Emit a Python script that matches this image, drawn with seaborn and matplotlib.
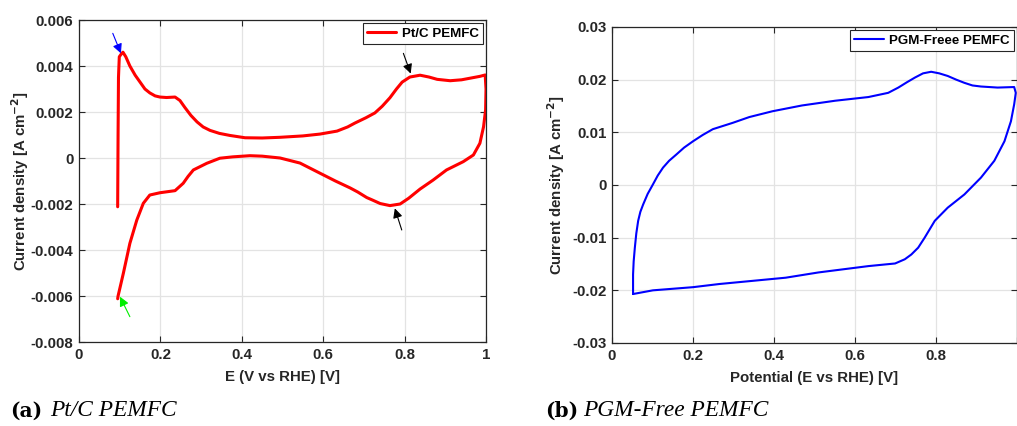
import matplotlib
matplotlib.use("Agg")
import matplotlib.pyplot as plt
import seaborn as sns
import pandas as pd

# ---- data ----
ptc_E = [0.095, 0.096, 0.097, 0.099, 0.103, 0.108, 0.115, 0.125, 0.138, 0.150, 0.162, 0.174,
         0.187, 0.199, 0.215, 0.236, 0.248, 0.260, 0.275, 0.290, 0.305, 0.322, 0.345, 0.371,
         0.408, 0.450, 0.494, 0.550, 0.592, 0.634, 0.660, 0.678, 0.705, 0.727, 0.745, 0.764,
         0.780, 0.794, 0.813, 0.838, 0.860, 0.880, 0.912, 0.940, 0.961, 0.985, 0.998,
         1.000, 0.999, 0.994, 0.985, 0.969, 0.944, 0.903, 0.870, 0.838, 0.810, 0.789, 0.764,
         0.740, 0.720, 0.707, 0.685, 0.666, 0.630, 0.592, 0.543, 0.494, 0.450, 0.420, 0.378,
         0.346, 0.314, 0.281, 0.268, 0.256, 0.236, 0.199, 0.174, 0.158, 0.142, 0.125, 0.109,
         0.096, 0.095]
ptc_j = [-0.00212, 0.00100, 0.00350, 0.00440, 0.00450, 0.00460, 0.00440, 0.00400, 0.00360,
         0.00330, 0.00300, 0.00283, 0.00270, 0.00265, 0.00263, 0.00265, 0.00250, 0.00220,
         0.00185, 0.00157, 0.00135, 0.00120, 0.00107, 0.00098, 0.00088, 0.00087, 0.00090,
         0.00096, 0.00104, 0.00117, 0.00135, 0.00152, 0.00175, 0.00196, 0.00225, 0.00262,
         0.00300, 0.00330, 0.00352, 0.00360, 0.00352, 0.00342, 0.00336, 0.00340, 0.00347,
         0.00355, 0.00361,
         0.00300, 0.00209, 0.00136, 0.00064, 0.00013, -0.00016, -0.00052, -0.00096, -0.00135,
         -0.00175, -0.00200, -0.00207, -0.00198, -0.00182, -0.00172, -0.00148, -0.00130,
         -0.00100, -0.00066, -0.00022, 0.00000, 0.00008, 0.00010, 0.00005, -0.00001, -0.00023,
         -0.00052, -0.00080, -0.00110, -0.00142, -0.00151, -0.00161, -0.00197, -0.00270,
         -0.00371, -0.00501, -0.00600, -0.00612]

pgm_E = [0.052, 0.052, 0.0535, 0.0564, 0.060, 0.0646, 0.070, 0.0769, 0.088, 0.101, 0.113,
         0.126, 0.141, 0.159, 0.178, 0.200, 0.224, 0.249, 0.298, 0.339, 0.396, 0.469, 0.551,
         0.633, 0.682, 0.707, 0.728, 0.748, 0.768, 0.788, 0.808, 0.829, 0.850, 0.870, 0.890,
         0.911, 0.952, 0.993, 0.997, 0.993, 0.985, 0.969, 0.944, 0.911, 0.870, 0.829, 0.797,
         0.772, 0.756, 0.739, 0.723, 0.699, 0.633, 0.592, 0.510, 0.429, 0.347, 0.265, 0.200,
         0.101, 0.052]
pgm_j = [-0.0207, -0.0170, -0.0145, -0.0119, -0.0092, -0.0068, -0.0051, -0.0037, -0.0017,
         0.0001, 0.0018, 0.0033, 0.0046, 0.0058, 0.0071, 0.0083, 0.0095, 0.0106, 0.0118,
         0.0129, 0.0140, 0.0151, 0.0160, 0.0167, 0.0175, 0.0185, 0.0195, 0.0204, 0.0212,
         0.0215, 0.0212, 0.0207, 0.0200, 0.0194, 0.0189, 0.0187, 0.0185, 0.0186, 0.0175,
         0.0153, 0.0121, 0.0083, 0.0046, 0.0014, -0.0018, -0.0043, -0.0068, -0.0100, -0.0119,
         -0.0132, -0.0141, -0.0149, -0.0154, -0.0158, -0.0166, -0.0176, -0.0182, -0.0188,
         -0.0194, -0.0200, -0.0207]

left_xticks = [0, 0.2, 0.4, 0.6, 0.8, 1.0]
left_xlabels = ["0", "0.2", "0.4", "0.6", "0.8", "1"]
left_yticks = [-0.008, -0.006, -0.004, -0.002, 0, 0.002, 0.004, 0.006]
left_ylabels = ["-0.008", "-0.006", "-0.004", "-0.002", "0", "0.002", "0.004", "0.006"]
right_xticks = [0, 0.2, 0.4, 0.6, 0.8, 1.0]
right_xlabels = ["0", "0.2", "0.4", "0.6", "0.8", ""]
right_yticks = [-0.03, -0.02, -0.01, 0, 0.01, 0.02, 0.03]
right_ylabels = ["-0.03", "-0.02", "-0.01", "0", "0.01", "0.02", "0.03"]

# ---- style ----
sns.set_theme(style="whitegrid")
plt.rcParams["font.family"] = ["Liberation Sans", "DejaVu Sans"]
plt.rcParams["font.weight"] = "bold"
TXT = "#262626"

fig = plt.figure(figsize=(10.17, 4.26), dpi=100)
axL = fig.add_axes([79/1017, (426-342)/426, 407/1017, 322/426])
axR = fig.add_axes([612/1017, (426-343)/426, 405/1017, 316/426])

dfL = pd.DataFrame({"E": ptc_E, "j": ptc_j})
dfR = pd.DataFrame({"E": pgm_E, "j": pgm_j})
sns.lineplot(data=dfL, x="E", y="j", sort=False, estimator=None, ax=axL,
             color="#ff0000", lw=2.2, label="Pt/C PEMFC")
sns.lineplot(data=dfR, x="E", y="j", sort=False, estimator=None, ax=axR,
             color="#0000ff", lw=1.5, label="PGM-Freee PEMFC")

def style(ax, xt, xl, yt, yl, xlim, ylim, xlabel):
    ax.set_xlim(*xlim)
    ax.set_ylim(*ylim)
    ax.set_xticks(xt)
    ax.set_xticklabels(xl)
    ax.set_yticks(yt)
    ax.set_yticklabels(yl)
    ax.grid(True, color="#e3e3e3", lw=0.9)
    ax.tick_params(direction="in", length=4, width=0.8, colors=TXT, labelsize=10.8,
                   top=True, right=True, bottom=True, left=True, pad=4)
    for lab in ax.get_xticklabels() + ax.get_yticklabels():
        lab.set_fontweight("bold")
    for s in ax.spines.values():
        s.set_color(TXT)
        s.set_linewidth(0.9)
    ax.set_xlabel(xlabel, fontsize=10.8, fontweight="bold", color=TXT, labelpad=6)
    ax.set_ylabel("Current density [A cm$^{\\mathbf{-2}}$]", fontsize=10.8,
                  fontweight="bold", color=TXT, labelpad=6)
    leg = ax.legend(loc="upper right", fontsize=9.6, frameon=True, fancybox=False,
                    borderpad=0.3, handlelength=2.2, handletextpad=0.4,
                    borderaxespad=0.25, framealpha=1)
    leg.get_frame().set_edgecolor(TXT)
    leg.get_frame().set_linewidth(0.8)
    for t in leg.get_texts():
        t.set_fontweight("bold")
        t.set_color("black")

style(axL, left_xticks, left_xlabels, left_yticks, left_ylabels, (0, 1), (-0.008, 0.006),
      "E (V vs RHE) [V]")
style(axR, right_xticks, right_xlabels, right_yticks, right_ylabels, (0, 1), (-0.03, 0.03),
      "Potential (E vs RHE) [V]")
axL.yaxis.set_label_coords(-0.118, 0.5)
axR.yaxis.set_label_coords(-0.111, 0.5)

# annotation arrows
def arrow(ax, head, tail, color):
    ax.annotate("", xy=head, xytext=tail,
                arrowprops=dict(arrowstyle="-|>", color=color, lw=0.8, mutation_scale=14,
                                shrinkA=0, shrinkB=0))

arrow(axL, (0.103, 0.00455), (0.083, 0.00542), "#0000ff")
arrow(axL, (0.815, 0.00367), (0.797, 0.00455), "black")
arrow(axL, (0.776, -0.00219), (0.793, -0.00313), "black")
arrow(axL, (0.1007, -0.00603), (0.125, -0.0069), "#00ee00")

# captions
fig.text(10/1017, 1 - 411/426, "(a)", family="DejaVu Serif", fontweight="bold",
         fontsize=14.5, va="center", color="black")
fig.text(50/1017, 1 - 411/426, "Pt/C PEMFC", family="Liberation Serif", style="italic",
         fontweight="normal", fontsize=16.8, va="center", color="black")
fig.text(545/1017, 1 - 411/426, "(b)", family="DejaVu Serif", fontweight="bold",
         fontsize=14.5, va="center", color="black")
fig.text(583/1017, 1 - 411/426, "PGM-Free PEMFC", family="Liberation Serif", style="italic",
         fontweight="normal", fontsize=16.8, va="center", color="black")

fig.savefig("out.png", dpi=100)
